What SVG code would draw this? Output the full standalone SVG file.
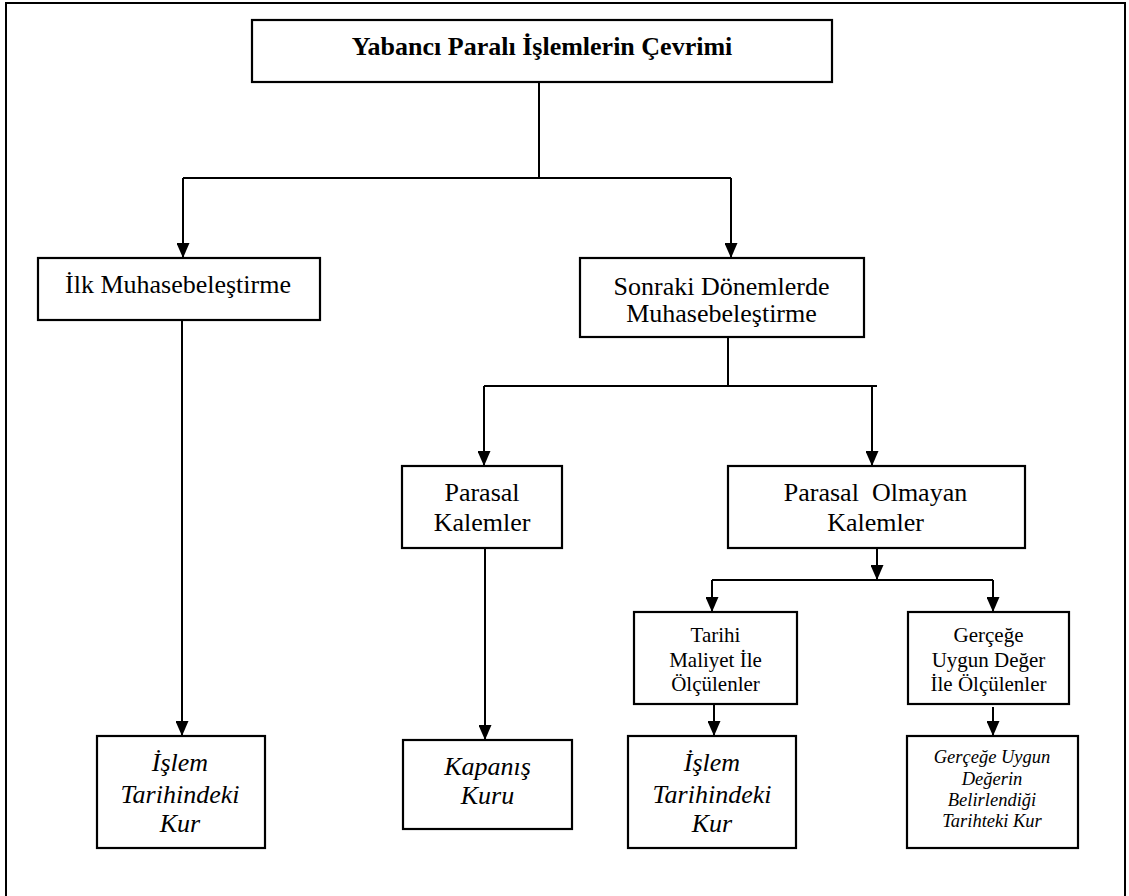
<svg xmlns="http://www.w3.org/2000/svg" width="1129" height="896" viewBox="0 0 1129 896">
<style>
.box{fill:#fff;stroke:#000;stroke-width:2.2}
.ln{fill:none;stroke:#000;stroke-width:2}
text{font-family:'Liberation Serif','Times New Roman',Tinos,'DejaVu Serif',serif;fill:#000;text-anchor:middle}
.b{font-weight:bold;font-size:26px}
.r{font-size:26px}
.s{font-size:21px}
.i{font-style:italic;font-size:26px}
.is{font-style:italic;font-size:18.5px}
</style>
<defs>
<marker id="ah" viewBox="0 0 15 13" refX="15" refY="6.5" markerWidth="15" markerHeight="13" markerUnits="userSpaceOnUse" orient="auto">
<path d="M0,0 L15,6.5 L0,13 z" fill="#000"/>
</marker>
</defs>
<rect width="1129" height="896" fill="#fff"/>
<path class="ln" d="M6,896 V3 H1125 V896" stroke-width="2.5"/>
<g id="connectors">
<path class="ln" d="M539,82 V178 M183,178 H731"/>
<path class="ln" d="M183,178 V258" marker-end="url(#ah)"/>
<path class="ln" d="M731,178 V258" marker-end="url(#ah)"/>
<path class="ln" d="M182,320 V736" marker-end="url(#ah)"/>
<path class="ln" d="M728,337 V386 M484,386 H877"/>
<path class="ln" d="M484,386 V466" marker-end="url(#ah)"/>
<path class="ln" d="M872,386 V466" marker-end="url(#ah)"/>
<path class="ln" d="M485,548 V740" marker-end="url(#ah)"/>
<path class="ln" d="M877,548 V580" marker-end="url(#ah)"/>
<path class="ln" d="M712,580 H993"/>
<path class="ln" d="M712,580 V612" marker-end="url(#ah)"/>
<path class="ln" d="M993,580 V612" marker-end="url(#ah)"/>
<path class="ln" d="M714,704 V736" marker-end="url(#ah)"/>
<path class="ln" d="M993,707 V736" marker-end="url(#ah)"/>
</g>
<g id="n-title">
<rect class="box" x="252" y="20" width="580" height="62"/>
<text class="b" x="542" y="55">Yabancı Paralı İşlemlerin Çevrimi</text>
</g>
<g id="n-ilk">
<rect class="box" x="38" y="258" width="282" height="62"/>
<text class="r" x="178" y="293">İlk Muhasebeleştirme</text>
</g>
<g id="n-sonraki">
<rect class="box" x="580" y="258" width="284" height="79"/>
<text class="r" x="721.5" y="295">Sonraki Dönemlerde</text>
<text class="r" x="721.5" y="322">Muhasebeleştirme</text>
</g>
<g id="n-parasal">
<rect class="box" x="402" y="466" width="160" height="82"/>
<text class="r" x="482" y="501">Parasal</text>
<text class="r" x="482" y="531">Kalemler</text>
</g>
<g id="n-parasal-olmayan">
<rect class="box" x="728" y="466" width="297" height="82"/>
<text class="r" x="875.5" y="501" style="white-space:pre">Parasal  Olmayan</text>
<text class="r" x="875.5" y="531">Kalemler</text>
</g>
<g id="n-tarihi">
<rect class="box" x="634" y="612" width="163" height="92"/>
<text class="s" x="715.5" y="642">Tarihi</text>
<text class="s" x="715.5" y="667">Maliyet İle</text>
<text class="s" x="715.5" y="691">Ölçülenler</text>
</g>
<g id="n-gercege">
<rect class="box" x="908" y="612" width="161" height="92"/>
<text class="s" x="988.5" y="642">Gerçeğe</text>
<text class="s" x="988.5" y="667">Uygun Değer</text>
<text class="s" x="988.5" y="691">İle Ölçülenler</text>
</g>
<g id="n-islem1">
<rect class="box" x="97" y="736" width="168" height="112"/>
<text class="i" x="180" y="771">İşlem</text>
<text class="i" x="180" y="803">Tarihindeki</text>
<text class="i" x="180" y="832">Kur</text>
</g>
<g id="n-kapanis">
<rect class="box" x="403" y="740" width="169" height="89"/>
<text class="i" x="487.5" y="775">Kapanış</text>
<text class="i" x="487.5" y="804">Kuru</text>
</g>
<g id="n-islem2">
<rect class="box" x="628" y="736" width="168" height="112"/>
<text class="i" x="712" y="771">İşlem</text>
<text class="i" x="712" y="803">Tarihindeki</text>
<text class="i" x="712" y="832">Kur</text>
</g>
<g id="n-gercege-kur">
<rect class="box" x="907" y="736" width="171" height="112"/>
<text class="is" x="992" y="763">Gerçeğe Uygun</text>
<text class="is" x="992" y="785">Değerin</text>
<text class="is" x="992" y="806">Belirlendiği</text>
<text class="is" x="992" y="827">Tarihteki Kur</text>
</g>
</svg>
